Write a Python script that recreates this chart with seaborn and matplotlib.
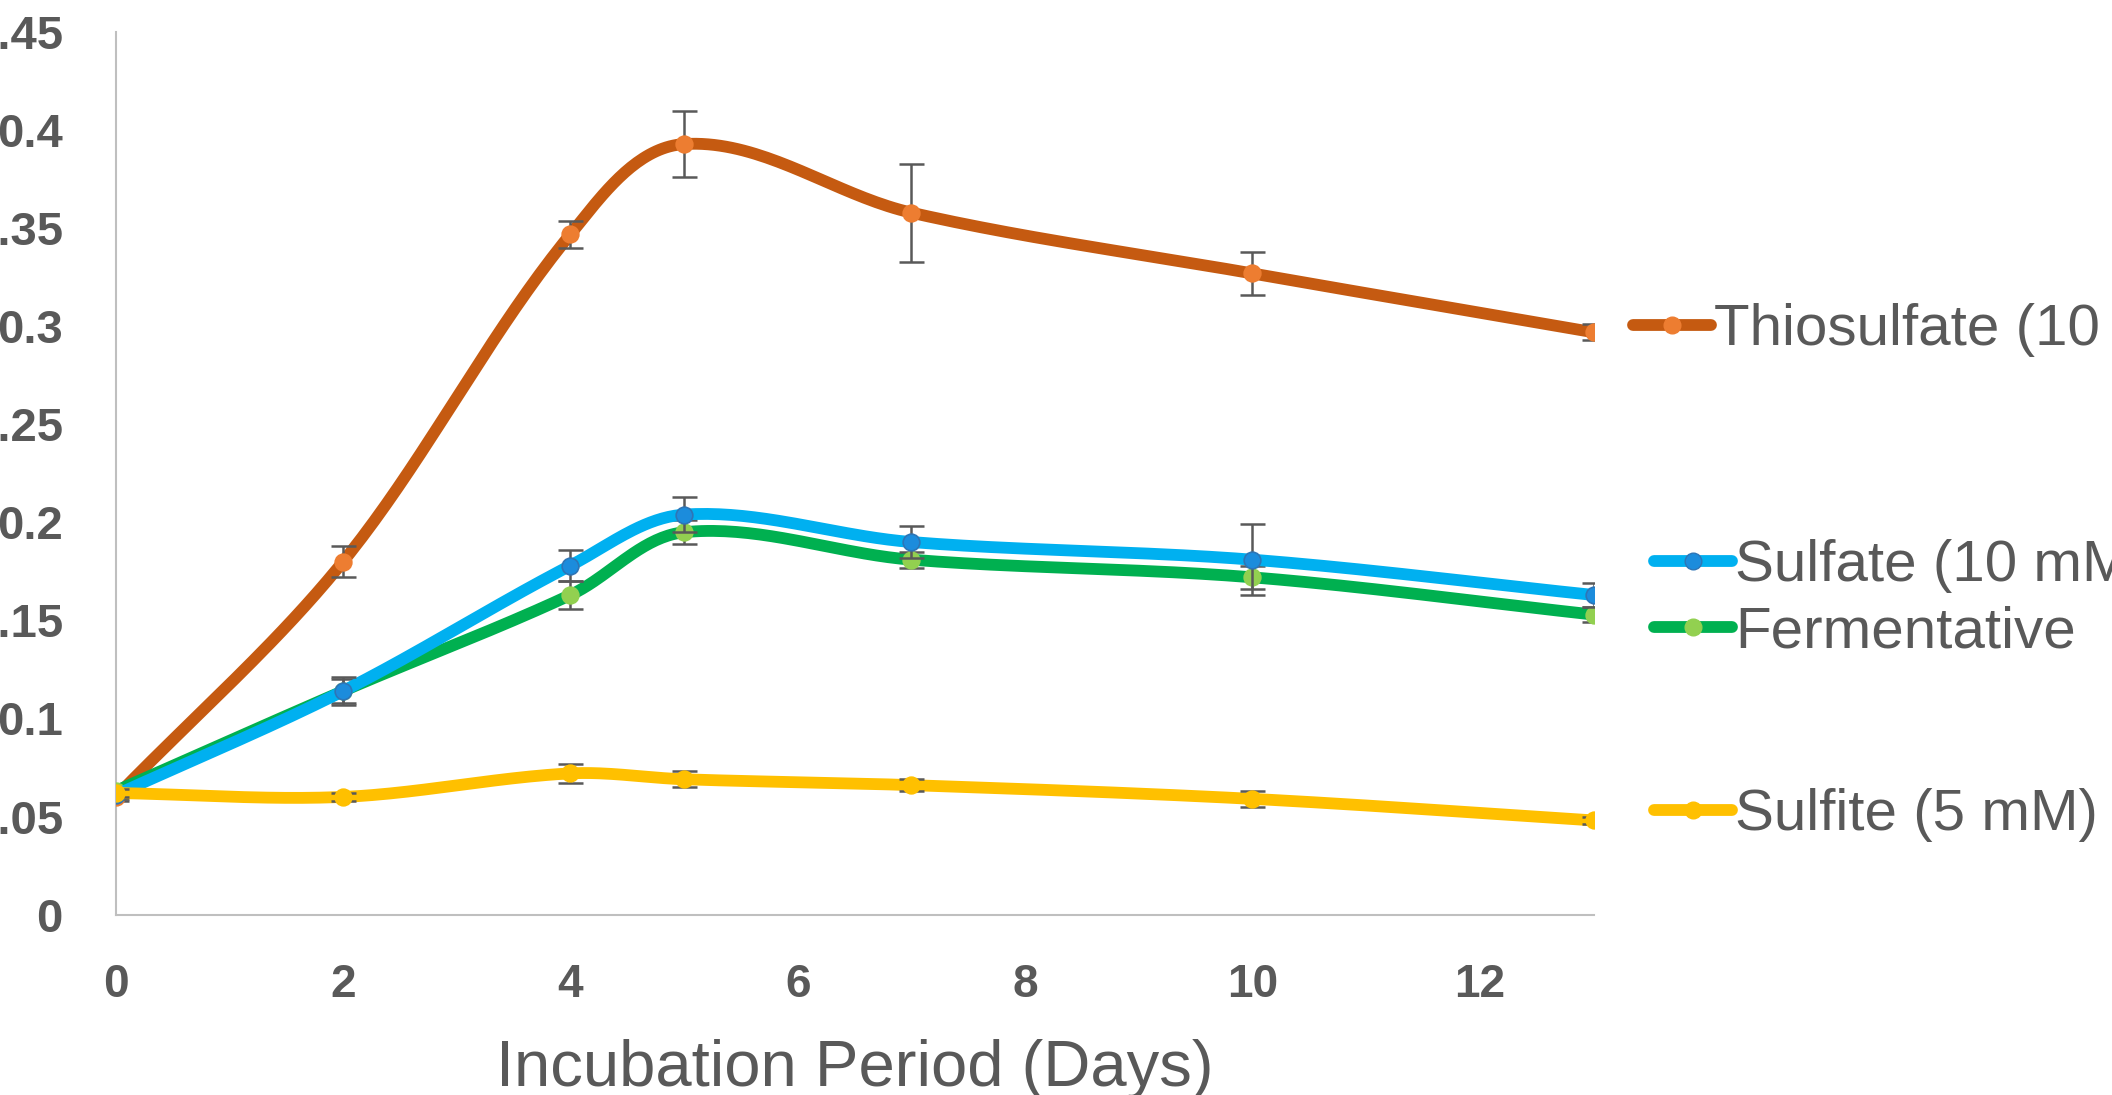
import numpy as np
import seaborn as sns
import matplotlib.pyplot as plt

# data
days = [0, 2, 4, 5, 7, 10, 13]
thiosulfate = [0.060, 0.180, 0.347, 0.393, 0.358, 0.327, 0.297]
thiosulfate_err = [0.002, 0.008, 0.007, 0.017, 0.025, 0.011, 0.004]
sulfate = [0.061, 0.114, 0.178, 0.204, 0.190, 0.181, 0.163]
sulfate_err = [0.002, 0.007, 0.008, 0.009, 0.008, 0.018, 0.006]
fermentative = [0.063, 0.114, 0.163, 0.195, 0.181, 0.172, 0.153]
fermentative_err = [0.002, 0.006, 0.007, 0.006, 0.004, 0.006, 0.004]
sulfite = [0.062, 0.060, 0.072, 0.069, 0.066, 0.059, 0.048]
sulfite_err = [0.002, 0.002, 0.005, 0.004, 0.003, 0.004, 0.002]

labels = ["Thiosulfate (10 mM)", "Sulfate (10 mM)", "Fermentative", "Sulfite (5 mM)"]
y_ticks = [0, 0.05, 0.1, 0.15, 0.2, 0.25, 0.3, 0.35, 0.4, 0.45]
y_tick_labels = ["0", "0.05", "0.1", "0.15", "0.2", "0.25", "0.3", "0.35", "0.4", "0.45"]
x_ticks = [0, 2, 4, 6, 8, 10, 12]

GREY = "#595959"


def smooth(xs, ys, n=40):
    # excel-like smoothed line: bezier through the points, tangent length
    # scaled by each segment so uneven spacing doesn't give kinks
    sx, sy = 84.4, 1456.0
    pts = np.column_stack([np.asarray(xs, float) * sx, np.asarray(ys, float) * sy])
    m = len(pts)
    tang = []
    for i in range(m):
        d = pts[min(i + 1, m - 1)] - pts[max(i - 1, 0)]
        tang.append(d / np.linalg.norm(d))
    out = []
    t = np.linspace(0, 1, n)[:, None]
    for i in range(m - 1):
        p1 = pts[i]
        p2 = pts[i + 1]
        L = np.linalg.norm(p2 - p1) / 3
        c1 = p1 + tang[i] * L
        c2 = p2 - tang[i + 1] * L
        seg = (1 - t) ** 3 * p1 + 3 * (1 - t) ** 2 * t * c1 + 3 * (1 - t) * t ** 2 * c2 + t ** 3 * p2
        out.append(seg if i == 0 else seg[1:])
    out = np.vstack(out)
    return out[:, 0] / sx, out[:, 1] / sy


sns.set_style("white")
plt.rcParams['font.family'] = ['Liberation Sans', 'DejaVu Sans']

fig = plt.figure(figsize=(21.12, 10.95), dpi=100)
ax = fig.add_axes([0.0548, 0.1648, 0.6997, 0.8057])

series = [
    (thiosulfate, thiosulfate_err, "#C55A11", "#ED7D31", "#ED7D31", labels[0]),
    (fermentative, fermentative_err, "#00B050", "#92D050", "#92D050", labels[2]),
    (sulfate, sulfate_err, "#00B0F0", "#1C8CDC", "#2E75B6", labels[1]),
    (sulfite, sulfite_err, "#FFC000", "#FFC000", "#FFC000", labels[3]),
]

LW = 8.5
MS = 12
handles = {}
for k, (vals, err, lc, mfc, mec, lab) in enumerate(series):
    zs = 2 + k * 3
    xs, ys = smooth(days, vals)
    sns.lineplot(x=xs, y=ys, ax=ax, color=lc, linewidth=LW, sort=False,
                 estimator=None, zorder=zs, solid_capstyle='round')
    ax.errorbar(days, vals, yerr=err, fmt='none', ecolor=GREY, elinewidth=1.8,
                capsize=9, capthick=1.8, zorder=zs + 1)
    ax.plot(days, vals, linestyle='none', marker='o', markersize=MS,
            markerfacecolor=mfc, markeredgecolor=mec, markeredgewidth=1.2,
            zorder=zs + 2)
    h, = ax.plot([], [], color=lc, linewidth=LW, marker='o', markersize=MS,
                 markerfacecolor=mfc, markeredgecolor=mec, solid_capstyle='round')
    handles[lab] = h

ax.set_xlim(0, 13)
ax.set_ylim(0, 0.45)
ax.set_xticks(x_ticks)
ax.set_yticks(y_ticks)
ax.set_yticklabels(y_tick_labels)
ax.tick_params(axis='both', length=0, labelsize=34, labelcolor=GREY)
ax.tick_params(axis='x', labelsize=33, pad=35)
ax.tick_params(axis='y', pad=38)
for t in ax.get_xticklabels() + ax.get_yticklabels():
    t.set_fontweight('bold')

for s in ["top", "right"]:
    ax.spines[s].set_visible(False)
for s in ["left", "bottom"]:
    ax.spines[s].set_color("#BFBFBF")
    ax.spines[s].set_linewidth(1.5)

ax.set_xlabel("Incubation Period (Days)", fontsize=47, color=GREY)
ax.xaxis.set_label_coords(0.5, -0.141)
ax.set_ylabel("")

# one legend entry beside each line end
legend_pos = {
    labels[0]: (0.7732, 0.6986),
    labels[1]: (0.7831, 0.4831),
    labels[2]: (0.7831, 0.4228),
    labels[3]: (0.7831, 0.2557),
}
for lab, pos in legend_pos.items():
    lg = fig.legend([handles[lab]], [lab], loc='center left', bbox_to_anchor=pos,
                    frameon=False, fontsize=42, handlelength=1.34,
                    handletextpad=0.05, borderpad=0, borderaxespad=0)
    for txt in lg.get_texts():
        txt.set_color(GREY)

fig.savefig("out.png", dpi=100)
